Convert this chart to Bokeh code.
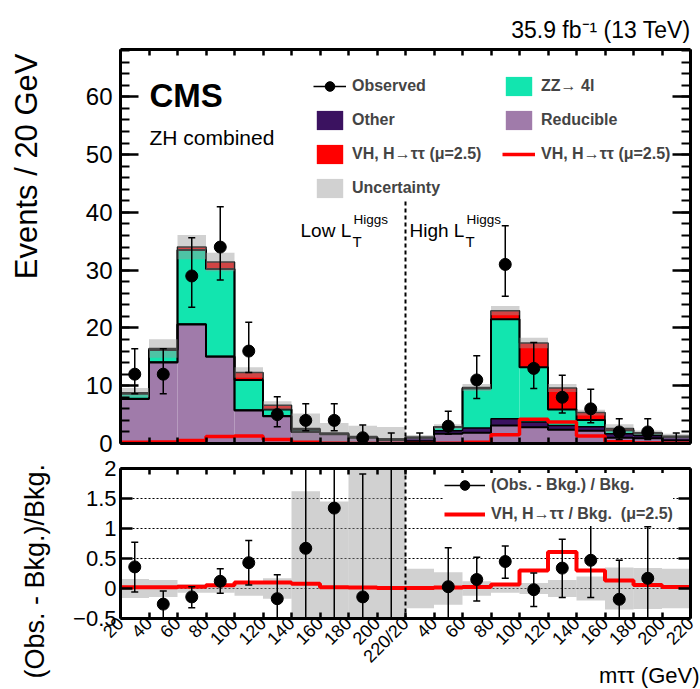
import math
import numpy as np
from bokeh.plotting import figure
from bokeh.models import (Range1d, LinearAxis, FixedTicker, SingleIntervalTicker,
                          Legend, LegendItem, Label, Span, Title)
from bokeh.layouts import column
from bokeh.embed import file_html
from bokeh.resources import INLINE

nan = float("nan")

# ---------------- data ----------------
low_edges = [20, 40, 60, 80, 100, 120, 140, 160, 180, 200, 220]
high_edges = [20, 40, 60, 80, 100, 120, 140, 160, 180, 200, 220]

reducible = [7.7, 14.0, 20.6, 15.0, 5.7, 4.7, 2.0, 1.6, 1.0, 0.6,
             0.4, 1.7, 1.85, 3.1, 2.8, 2.4, 2.2, 1.0, 0.9, 0.5]
other = [0.1, 0.1, 0.1, 0.1, 0.1, 0.1, 0.1, 0.05, 0.05, 0.1,
         0.6, 0.5, 0.85, 1.2, 0.9, 0.7, 0.7, 0.7, 0.5, 0.6]
zz4l = [0.8, 2.1, 12.8, 15.1, 5.2, 1.1, 0.3, 0.07, 0.1, 0.05,
        0.05, 0.65, 6.8, 17.2, 9.5, 2.8, 1.15, 0.6, 0.35, 0.1]
vh_sig = [0.2, 0.25, 0.5, 1.2, 1.3, 0.7, 0.2, 0.04, 0.02, 0.02,
          0.02, 0.05, 0.2, 1.5, 4.2, 3.7, 1.3, 0.3, 0.1, 0.03]
uncert = [0.8, 1.6, 2.1, 1.6, 0.9, 0.7, 2.6, 1.8, 1.9, 2.1,
          0.4, 0.45, 0.6, 0.8, 0.9, 0.7, 0.5, 0.75, 0.4, 0.45]

observed = [12, 12, 29, 34, 16, 5, 4, 4, 1, 0,
            0, 3, 11, 31, 13, 8, 6, 2, 2, 0]
obs_lo = [8.6, 8.6, 23.6, 28.3, 12.3, 2.9, 2.2, 2.2, 0.2, 0,
          0, 1.6, 7.8, 25.5, 9.5, 5.3, 3.6, 0.7, 0.7, 0]
obs_hi = [16.4, 16.4, 35.6, 41.0, 21.0, 8.1, 6.9, 6.9, 3.2, 1.8,
          1.8, 5.6, 15.2, 37.7, 17.5, 11.8, 9.4, 4.3, 4.3, 1.8]

ratio = [0.36, -0.26, -0.14, 0.12, 0.43, -0.17, 0.67, 1.34, -0.14, nan,
         nan, 0.03, 0.15, 0.45, -0.02, 0.34, 0.47, -0.18, 0.17, nan]
ratio_lo = [-0.06, -0.6, -0.32, -0.08, 0.06, -0.6, -0.6, -0.6, -0.6, -0.6,
            nan, -0.6, -0.21, 0.17, -0.30, -0.15, -0.15, -0.6, -0.6, nan]
ratio_hi = [0.77, -0.04, 0.03, 0.33, 0.80, 0.23, 2.5, 2.5, 1.91, 2.5,
            nan, 0.68, 0.52, 0.71, 0.26, 0.82, 1.08, 0.47, 1.03, nan]
sig_ratio = [0.02, 0.02, 0.03, 0.055, 0.10, 0.10, 0.08, 0.02, 0.015, 0.01,
             0.01, 0.015, 0.025, 0.065, 0.30, 0.61, 0.30, 0.135, 0.06, 0.025]
ratio_unc = [0.16, 0.14, 0.07, 0.07, 0.12, 0.17, 1.62, 1.45, 2.5, 2.5,
             0.33, 0.27, 0.12, 0.07, 0.09, 0.14, 0.2, 0.35, 0.34, 0.33]

divider_top = 42

# ---------------- derived ----------------
n_low = len(low_edges) - 1
n_bins = n_low + len(high_edges) - 1
edges = np.arange(n_bins + 1)
left = edges[:-1].astype(float)
right = edges[1:].astype(float)
center = left + 0.5

b1 = np.array(reducible)
b2 = b1 + np.array(other)
b3 = b2 + np.array(zz4l)
b4 = b3 + np.array(vh_sig)
unc = np.array(uncert)

def stepy(a):
    a = np.asarray(a, dtype=float)
    return np.append(a, a[-1])

C_RED = "#A07BAA"
C_OTH = "#3B1260"
C_ZZ = "#12E5AF"
C_VH = "#FF0000"
C_UNC = "#9a9a9a"
FONT = "Liberation Sans"

def style_axis(ax, size, tick_in, minor_in=0, show=True, standoff=6, ticks=None):
    ax.axis_line_width = 3
    ax.axis_line_color = "black"
    ax.major_tick_in = tick_in
    ax.major_tick_out = 0
    ax.minor_tick_in = minor_in
    ax.minor_tick_out = 0
    ax.major_tick_line_width = 2.5
    ax.minor_tick_line_width = 2
    ax.major_label_text_font = FONT
    ax.major_label_text_color = "black"
    ax.axis_label_standoff = 0
    if show:
        ax.major_label_text_font_size = size
        ax.major_label_standoff = standoff
    else:
        ax.major_label_text_font_size = "1px"
        ax.major_label_standoff = 0
        ax.major_label_overrides = {t: "" for t in ticks}
    ax.axis_label = None

def side_title(text, size, align, valign, offset, standoff):
    return Title(text=text, align=align, vertical_align=valign, offset=offset,
                 standoff=standoff, text_font=FONT, text_font_size=size,
                 text_font_style="normal", text_color="black")

xt_list = [int(e) for e in edges]
yt_top = list(range(0, 70, 10))

# ---------------- top panel ----------------
p = figure(width=700, height=456, x_range=Range1d(0, n_bins), y_range=Range1d(0, 68.2),
           output_backend="svg", toolbar_location=None,
           min_border_left=119, min_border_right=10, min_border_top=49, min_border_bottom=13)
p.grid.visible = False
p.outline_line_color = None
p.background_fill_color = "white"
p.border_fill_color = "white"

p.xaxis[0].ticker = FixedTicker(ticks=xt_list, minor_ticks=[])
style_axis(p.xaxis[0], None, 6, show=False, ticks=xt_list)
p.yaxis[0].ticker = SingleIntervalTicker(interval=10, num_minor_ticks=5)
style_axis(p.yaxis[0], "24px", 18, 9, standoff=8)
ax_top = LinearAxis(ticker=FixedTicker(ticks=xt_list, minor_ticks=[]))
style_axis(ax_top, None, 6, show=False, ticks=xt_list)
p.add_layout(ax_top, "above")
ax_right = LinearAxis(ticker=SingleIntervalTicker(interval=10, num_minor_ticks=5))
style_axis(ax_right, None, 18, 9, show=False, ticks=yt_top)
p.add_layout(ax_right, "right")

p.title.text = "35.9 fb\u207b\u00b9 (13 TeV)"
p.title.align = "right"
p.title.vertical_align = "bottom"
p.title.text_font = FONT
p.title.text_font_size = "23px"
p.title.text_font_style = "normal"
p.title.text_color = "black"
p.title.standoff = 14
p.title.offset = 0

# second (empty) line keeps the rotated title away from the tick labels
p.add_layout(side_title("Events / 20 GeV\n", "31px", "right", "top", 4, 4), "left")

r_red = p.quad(left=left, right=right, bottom=0, top=b1, fill_color=C_RED, line_color=None)
r_oth = p.quad(left=left, right=right, bottom=b1, top=b2, fill_color=C_OTH, line_color=None)
r_zz = p.quad(left=left, right=right, bottom=b2, top=b3, fill_color=C_ZZ, line_color=None)
r_vh = p.quad(left=left, right=right, bottom=b3, top=b4, fill_color=C_VH, line_color=None)
for lvl, w in ((b1, 2), (b2, 1.5), (b3, 2), (b4, 1.5)):
    p.step(x=edges, y=stepy(lvl), mode="after", line_color="black", line_width=w)
r_unc = p.quad(left=left, right=right, bottom=np.maximum(b4 - unc, 0), top=b4 + unc,
               fill_color=C_UNC, fill_alpha=0.45, line_color=None)
r_sigline = p.step(x=edges, y=stepy(vh_sig), mode="after", line_color=C_VH, line_width=3.5)
p.segment(x0=[n_low], y0=[0], x1=[n_low], y1=[divider_top], line_color="black",
          line_width=2, line_dash="4 3")

r_err = p.segment(x0=center, y0=obs_lo, x1=center, y1=obs_hi, line_color="black", line_width=1.5)
p.scatter(x=center, y=obs_hi, marker="dash", size=7, line_color="black", line_width=1.5)
p.scatter(x=center, y=obs_lo, marker="dash", size=7, line_color="black", line_width=1.5)
obs_arr = np.array(observed, dtype=float)
mask = obs_arr > 0
r_obs = p.scatter(x=center[mask], y=obs_arr[mask], marker="circle", size=12,
                  fill_color="black", line_color="black")

def make_legend(items, loc, gw=33, gh=24, spacing=10, padding=0, bg=None):
    lg = Legend(items=items, location=loc, orientation="vertical",
                glyph_width=gw, glyph_height=gh, label_height=gh, spacing=spacing,
                padding=padding, margin=0, label_standoff=6,
                label_text_font=FONT, label_text_font_style="bold",
                label_text_font_size="16px", border_line_color=None)
    if bg is None:
        lg.background_fill_alpha = 0
    else:
        lg.background_fill_color = bg
        lg.background_fill_alpha = 1
    return lg

leg1 = make_legend([
    LegendItem(label="Observed", renderers=[r_err, r_obs]),
    LegendItem(label="Other", renderers=[r_oth]),
    LegendItem(label="VH, H\u2192\u03c4\u03c4 (\u03bc=2.5)", renderers=[r_vh]),
    LegendItem(label="Uncertainty", renderers=[r_unc]),
], (193, 243.5))
leg2 = make_legend([
    LegendItem(label="ZZ\u2192 4l", renderers=[r_zz]),
    LegendItem(label="Reducible", renderers=[r_red]),
    LegendItem(label="VH, H\u2192\u03c4\u03c4 (\u03bc=2.5)", renderers=[r_sigline]),
], (382, 277.5))
p.add_layout(leg1)
p.add_layout(leg2)

def lab(fig, x, y, text, size, style="normal", align="left", baseline="alphabetic"):
    fig.add_layout(Label(x=x, y=y, x_units="screen", y_units="screen", text=text,
                         text_font=FONT, text_font_size=size, text_font_style=style,
                         text_align=align, text_baseline=baseline, text_color="black"))

lab(p, 29, 348, "CMS", "33px", style="bold")
lab(p, 29, 306, "ZH combined", "21px")
lab(p, 180, 213, "Low L", "19px")
lab(p, 232, 202, "T", "15px")
lab(p, 233, 224, "Higgs", "13.5px")
lab(p, 289, 213, "High L", "19px")
lab(p, 345, 202, "T", "15px")
lab(p, 346, 224, "Higgs", "13.5px")

# ---------------- ratio panel ----------------
r = figure(width=700, height=233, x_range=p.x_range, y_range=Range1d(-0.5, 2),
           output_backend="svg", toolbar_location=None,
           min_border_left=119, min_border_right=10, min_border_top=12, min_border_bottom=71)
r.outline_line_color = None
r.xgrid.visible = False
r.ygrid.ticker = FixedTicker(ticks=[0, 0.5, 1, 1.5])
r.ygrid.grid_line_color = "black"
r.ygrid.grid_line_dash = "2 2"
r.ygrid.grid_line_width = 1

tick_labels = ([str(v) for v in low_edges[:-1]] + [f"{low_edges[-1]}/{high_edges[0]}"]
               + [str(v) for v in high_edges[1:]])
r.xaxis[0].ticker = FixedTicker(ticks=xt_list, minor_ticks=[])
style_axis(r.xaxis[0], "18px", 6, standoff=2)
r.xaxis[0].major_label_orientation = math.pi / 4
r.xaxis[0].major_label_overrides = {int(i): t for i, t in enumerate(tick_labels)}
yt = [-0.5, 0, 0.5, 1, 1.5, 2]
r.yaxis[0].ticker = FixedTicker(ticks=yt, minor_ticks=[])
style_axis(r.yaxis[0], "22px", 12, standoff=4)
r.yaxis[0].major_label_overrides = {-0.5: "\u22120.5", 0: "0", 0.5: "0.5", 1: "1", 1.5: "1.5", 2: "2"}
rt = LinearAxis(ticker=FixedTicker(ticks=xt_list, minor_ticks=[]))
style_axis(rt, None, 6, show=False, ticks=xt_list)
r.add_layout(rt, "above")
rr = LinearAxis(ticker=FixedTicker(ticks=yt, minor_ticks=[]))
style_axis(rr, None, 12, show=False, ticks=yt)
r.add_layout(rr, "right")

r.add_layout(side_title("(Obs. - Bkg.)/Bkg.", "27px", "left", "top", -60, 38), "left")
r.add_layout(side_title("m\u03c4\u03c4 (GeV)", "22px", "right", "top", -9, -27), "below")

ru = np.array(ratio_unc)
r.quad(left=left, right=right, bottom=-ru, top=ru, fill_color=C_UNC, fill_alpha=0.45, line_color=None)
r_sr = r.step(x=edges, y=stepy(sig_ratio), mode="after", line_color=C_VH, line_width=4)
r.add_layout(Span(location=n_low, dimension="height", line_color="black", line_width=2, line_dash="4 3"))
r_rerr = r.segment(x0=center, y0=ratio_lo, x1=center, y1=ratio_hi, line_color="black", line_width=1.5)
r.scatter(x=center, y=ratio_hi, marker="dash", size=7, line_color="black", line_width=1.5)
r.scatter(x=center, y=ratio_lo, marker="dash", size=7, line_color="black", line_width=1.5)
r_rpt = r.scatter(x=center, y=ratio, marker="circle", size=12, fill_color="black", line_color="black")

leg3 = make_legend([
    LegendItem(label="(Obs. - Bkg.) / Bkg.", renderers=[r_rerr, r_rpt]),
    LegendItem(label="VH, H\u2192\u03c4\u03c4 / Bkg.  (\u03bc=2.5)", renderers=[r_sr]),
], (324, 92), gw=41, gh=24, spacing=5, padding=5, bg="white")
r.add_layout(leg3)

layout = column(p, r, spacing=0)
open("out.html", "w").write(file_html(layout, INLINE))
